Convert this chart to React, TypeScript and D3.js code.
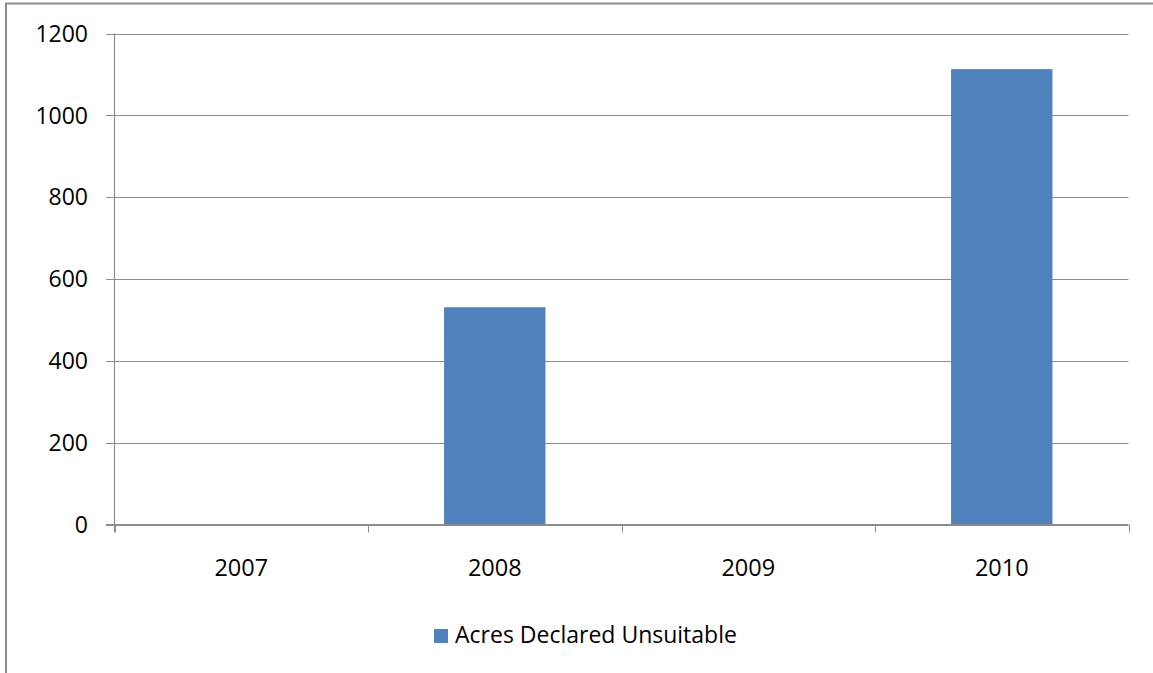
import React from "react";
import * as d3 from "d3";

const categories = ["2007", "2008", "2009", "2010"];
const acresDeclaredUnsuitable = [0, 531, 0, 1113];
const yTicks = [0, 200, 400, 600, 800, 1000, 1200];
const seriesName = "Acres Declared Unsuitable";

const W = 1153;
const H = 673;
const left = 114.5;
const right = 1128.5;
const top = 33.5;
const bottom = 524.5;
const FONT = "'Open Sans', 'Noto Sans', sans-serif";

export default function App() {
  const x = d3.scaleBand<string>().domain(categories).range([left, right]).paddingInner(0.6).paddingOuter(0.3);
  const xBound = d3.scaleLinear().domain([0, categories.length]).range([left, right]);
  const y = d3.scaleLinear().domain([0, 1200]).range([bottom, top]);
  const grid = "#8c8c8c";

  return (
    <svg width={W} height={H} style={{ position: "absolute", left: 0, top: 0, background: "#fff" }}>
      <rect x={6} y={3.5} width={1300} height={900} fill="#fff" stroke="#8a8a8a" strokeWidth={2} />
      {yTicks.map((t) => (
        <g key={t}>
          <line x1={106} x2={right} y1={Math.round(y(t)) + 0.5} y2={Math.round(y(t)) + 0.5} stroke={grid} strokeWidth={1} />
          <text x={88} y={y(t)} dy="0.36em" textAnchor="end" fontFamily={FONT} fontSize={23} fill="#000">
            {t}
          </text>
        </g>
      ))}
      {categories.map((c, i) => (
        <rect
          key={c}
          x={x(c)}
          y={y(acresDeclaredUnsuitable[i])}
          width={x.bandwidth()}
          height={bottom - y(acresDeclaredUnsuitable[i])}
          fill="#4F81BD"
        />
      ))}
      <line x1={left} x2={left} y1={top} y2={bottom + 8} stroke={grid} strokeWidth={1.2} />
      <line x1={106} x2={right} y1={bottom} y2={bottom} stroke={grid} strokeWidth={1.2} />
      {d3.range(categories.length + 1).map((i) => (
        <line key={i} x1={Math.round(xBound(i)) + 0.5} x2={Math.round(xBound(i)) + 0.5} y1={bottom} y2={bottom + 8} stroke={grid} strokeWidth={1} />
      ))}
      {categories.map((c) => (
        <text key={c} x={(x(c) as number) + x.bandwidth() / 2} y={575.5} textAnchor="middle" fontFamily={FONT} fontSize={23.5} fill="#000">
          {c}
        </text>
      ))}
      <rect x={434} y={629} width={14} height={14} fill="#4F81BD" />
      <text x={455} y={642.5} fontFamily={FONT} fontSize={23} fill="#000">
        {seriesName}
      </text>
    </svg>
  );
}
